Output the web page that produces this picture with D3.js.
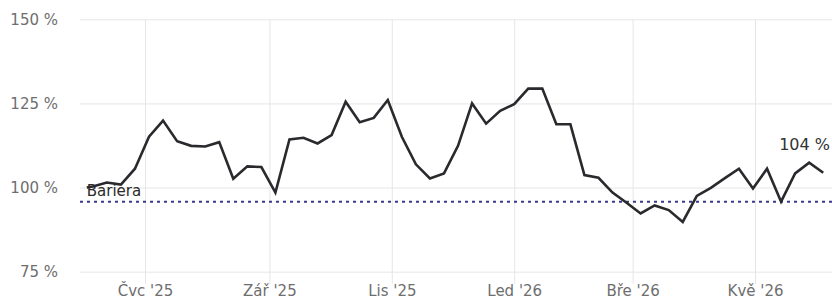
<!DOCTYPE html>
<html>
<head>
<meta charset="utf-8">
<script src="https://cdn.jsdelivr.net/npm/d3@7"></script>
<style>
  body { margin: 0; background: #fff; }
  svg text { font-family: "DejaVu Sans", sans-serif; }
  .grid line { stroke: #e6e6e6; stroke-width: 1; }
  .grid text { fill: #6e6e6e; font-size: 15px; }
</style>
</head>
<body>
<div id="chart"></div>
<script>
var svgWidth = 832;
var svgHeight = 300;

var margin = { top: 19.3, right: 0, bottom: 28.3, left: 80 };
var width = svgWidth - margin.left - margin.right;
var height = svgHeight - margin.top - margin.bottom;

// observation dates and values (% of initial level)
var dates = [
  "2025-06-02", "2025-06-05", "2025-06-12", "2025-06-19", "2025-06-26",
  "2025-07-03", "2025-07-10", "2025-07-17", "2025-07-24", "2025-07-31",
  "2025-08-07", "2025-08-14", "2025-08-21", "2025-08-28", "2025-09-04",
  "2025-09-11", "2025-09-18", "2025-09-25", "2025-10-02", "2025-10-09",
  "2025-10-16", "2025-10-23", "2025-10-30", "2025-11-06", "2025-11-13",
  "2025-11-20", "2025-11-27", "2025-12-04", "2025-12-11", "2025-12-18",
  "2025-12-25", "2026-01-01", "2026-01-08", "2026-01-15", "2026-01-22",
  "2026-01-29", "2026-02-05", "2026-02-12", "2026-02-19", "2026-02-26",
  "2026-03-05", "2026-03-12", "2026-03-19", "2026-03-26", "2026-04-02",
  "2026-04-09", "2026-04-16", "2026-04-23", "2026-04-30", "2026-05-07",
  "2026-05-14", "2026-05-21", "2026-05-28", "2026-06-04"
];
var values = [
  100.0, 100.3, 101.5, 100.9, 105.6, 115.1, 119.9, 113.8, 112.4, 112.2,
  113.5, 102.6, 106.3, 106.1, 98.5, 114.3, 114.8, 113.1, 115.6, 125.5,
  119.4, 120.7, 126.0, 115.1, 106.9, 102.7, 104.2, 112.4, 125.0, 119.0,
  122.8, 124.8, 129.4, 129.4, 118.8, 118.8, 103.7, 102.9, 98.5, 95.5,
  92.3, 94.7, 93.3, 89.8, 97.5, 99.9, 102.8, 105.6, 99.7, 105.6,
  95.8, 104.2, 107.4, 104.4
];

var barrier = 95.8;
var barrierLabel = "Bariera";

var yTicks = [75, 100, 125, 150];
var xTickDates = ["2025-07-01", "2025-09-01", "2025-11-01", "2026-01-01", "2026-03-01", "2026-05-01"];
var xTickLabels = ["Čvc '25", "Zář '25", "Lis '25", "Led '26", "Bře '26", "Kvě '26"];

var parseDate = d3.timeParse("%Y-%m-%d");

var series = dates.map(function(d, i) {
  return { date: parseDate(d), value: values[i] };
});

var svg = d3.select("#chart")
  .append("svg")
  .attr("width", svgWidth)
  .attr("height", svgHeight);

var chartGroup = svg.append("g")
  .attr("transform", `translate(${margin.left}, ${margin.top})`);

// scales
var xScale = d3.scaleTime()
  .domain([new Date(2025, 4, 29, 14, 40), new Date(2026, 5, 8, 9, 0)])
  .range([0, width]);

var yScale = d3.scaleLinear()
  .domain([75, 150])
  .range([height, 0]);

// horizontal grid + y labels
var leftAxis = d3.axisLeft(yScale)
  .tickValues(yTicks)
  .tickSize(-width)
  .tickPadding(22)
  .tickFormat(d => d + " %");

chartGroup.append("g")
  .attr("class", "grid")
  .call(leftAxis)
  .call(g => g.attr("font-family", null).attr("font-size", null))
  .call(g => g.select(".domain").remove());

// vertical grid + month labels (lines run a bit below the plot)
var xTickParsed = xTickDates.map(parseDate);
var bottomAxis = d3.axisBottom(xScale)
  .tickValues(xTickParsed)
  .tickSize(-(height + 12))
  .tickPadding(2)
  .tickFormat((d, i) => xTickLabels[i]);

chartGroup.append("g")
  .attr("class", "grid")
  .attr("transform", `translate(0, ${height + 12})`)
  .call(bottomAxis)
  .call(g => g.attr("font-family", null).attr("font-size", null))
  .call(g => g.select(".domain").remove());

// barrier line
chartGroup.append("line")
  .attr("x1", 0)
  .attr("x2", width)
  .attr("y1", yScale(barrier))
  .attr("y2", yScale(barrier))
  .attr("stroke", "#3a3a8c")
  .attr("stroke-width", 2)
  .attr("stroke-dasharray", "3,4");

chartGroup.append("text")
  .attr("x", xScale(series[0].date))
  .attr("y", yScale(barrier) - 6)
  .attr("font-size", 15)
  .attr("fill", "#2a2a2a")
  .text(barrierLabel);

// price line
var line = d3.line()
  .x(d => xScale(d.date))
  .y(d => yScale(d.value));

chartGroup.append("path")
  .datum(series)
  .attr("fill", "none")
  .attr("stroke", "#2a2a2e")
  .attr("stroke-width", 2.6)
  .attr("d", line);

// last value label
var last = series[series.length - 1];
chartGroup.append("text")
  .attr("x", width - 2)
  .attr("y", yScale(last.value) - 23)
  .attr("text-anchor", "end")
  .attr("font-size", 16)
  .attr("fill", "#333")
  .text(Math.round(last.value) + " %");
</script>
</body>
</html>
